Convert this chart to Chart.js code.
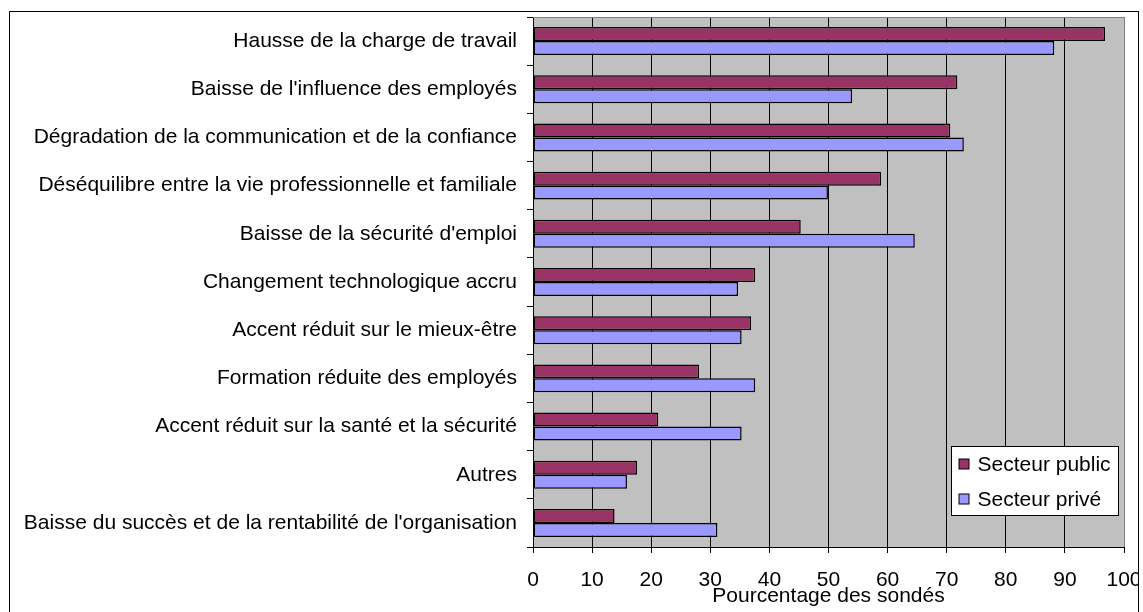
<!DOCTYPE html>
<html>
<head>
<meta charset="utf-8">
<script src="https://cdn.jsdelivr.net/npm/chart.js@4/dist/chart.umd.min.js"></script>
<style>
html,body{margin:0;padding:0;background:#fff;}
#wrap{width:1143px;height:612px;position:relative;}
</style>
</head>
<body>
<div id="wrap"><canvas id="c" width="1143" height="612"></canvas></div>
<script>
const categories = [
  "Hausse de la charge de travail",
  "Baisse de l'influence des employés",
  "Dégradation de la communication et de la confiance",
  "Déséquilibre entre la vie professionnelle et familiale",
  "Baisse de la sécurité d'emploi",
  "Changement technologique accru",
  "Accent réduit sur le mieux-être",
  "Formation réduite des employés",
  "Accent réduit sur la santé et la sécurité",
  "Autres",
  "Baisse du succès et de la rentabilité de l'organisation"
];
const seriesNames = ["Secteur public", "Secteur privé"];
const publicValues = [96.8, 71.8, 70.6, 58.9, 45.3, 37.6, 36.9, 28.1, 21.2, 17.6, 13.8];
const privateValues = [88.2, 54.0, 72.9, 49.9, 64.6, 34.7, 35.3, 37.6, 35.3, 15.9, 31.2];
const xTicks = [0, 10, 20, 30, 40, 50, 60, 70, 80, 90, 100];
const xTitle = "Pourcentage des sondés";

const FONT = "'Liberation Sans', Arial, Helvetica, sans-serif";
const FS = 21;
const colors = ["#993366", "#9999FF"];

const framePlugin = {
  id: 'frame',
  beforeDraw(chart) {
    const {ctx, chartArea: a} = chart;
    ctx.save();
    ctx.fillStyle = '#C0C0C0';
    ctx.fillRect(a.left, a.top, a.right - a.left, a.bottom - a.top);
    ctx.restore();
  },
  afterDraw(chart) {
    const {ctx, chartArea: a} = chart;
    ctx.save();
    // plot top/right edge
    ctx.strokeStyle = '#808080';
    ctx.lineWidth = 1;
    ctx.beginPath();
    ctx.moveTo(a.left, Math.round(a.top) + 0.5);
    ctx.lineTo(Math.round(a.right) + 0.5, Math.round(a.top) + 0.5);
    ctx.lineTo(Math.round(a.right) + 0.5, a.bottom);
    ctx.stroke();
    // outer frame (also clips the right end of the last tick label)
    ctx.fillStyle = '#fff';
    ctx.fillRect(1139, 0, 4, 612);
    ctx.strokeStyle = '#000';
    ctx.strokeRect(9.5, 11.5, 1129, 610);
    // legend
    const w = 167, h = 69;
    const x0 = Math.round(a.right) - 6 - w + 0.5;
    const y0 = Math.round(a.bottom) - 32 - h + 0.5;
    ctx.fillStyle = '#fff';
    ctx.fillRect(x0, y0, w, h);
    ctx.strokeStyle = '#000';
    ctx.strokeRect(x0, y0, w, h);
    ctx.font = FS + 'px ' + FONT;
    ctx.textBaseline = 'middle';
    ctx.textAlign = 'left';
    chart.data.datasets.forEach((ds, i) => {
      const cy = y0 + 17.5 + i * 35;
      ctx.fillStyle = ds.backgroundColor;
      ctx.fillRect(x0 + 7.5, cy - 5, 10, 10);
      ctx.strokeStyle = '#000';
      ctx.strokeRect(x0 + 7.5, cy - 5, 10, 10);
      ctx.fillStyle = '#000';
      ctx.fillText(ds.label, x0 + 26, cy + 1);
    });
    ctx.restore();
  }
};

new Chart(document.getElementById('c'), {
  type: 'bar',
  data: {
    labels: categories,
    datasets: [
      {label: seriesNames[0], data: publicValues, backgroundColor: colors[0], borderColor: '#000', borderWidth: 1.5, borderSkipped: false},
      {label: seriesNames[1], data: privateValues, backgroundColor: colors[1], borderColor: '#000', borderWidth: 1.5, borderSkipped: false}
    ]
  },
  options: {
    indexAxis: 'y',
    responsive: false,
    animation: false,
    devicePixelRatio: 1,
    layout: {padding: {top: 17, right: 19, left: 0, bottom: 0}},
    categoryPercentage: 0.58,
    barPercentage: 1.0,
    plugins: {legend: {display: false}, tooltip: {enabled: false}},
    scales: {
      x: {
        type: 'linear',
        min: 0, max: 100,
        afterBuildTicks(scale) { scale.ticks = xTicks.map(v => ({value: v})); },
        afterFit(scale) { scale.height = 65; scale.paddingLeft = 0; scale.paddingRight = 0; },
        ticks: {color: '#000', font: {family: FONT, size: FS}, padding: 15, maxRotation: 0},
        grid: {color: ctx => (ctx.tick && ctx.tick.value === 100) ? '#808080' : '#000', lineWidth: 1, tickLength: 6, tickColor: '#000'},
        border: {display: true, color: '#000'},
        title: {display: true, text: xTitle, color: '#000', font: {family: FONT, size: FS}, padding: {top: 0, bottom: 3}}
      },
      y: {
        type: 'category',
        afterFit(scale) { scale.width = 533; scale.paddingTop = 0; scale.paddingBottom = 0; },
        ticks: {color: '#000', font: {family: FONT, size: FS}, padding: 10, autoSkip: false},
        grid: {drawOnChartArea: false, drawTicks: true, tickLength: 6, color: '#000', offset: true},
        border: {display: true, color: '#000'}
      }
    }
  },
  plugins: [framePlugin]
});
</script>
</body>
</html>
